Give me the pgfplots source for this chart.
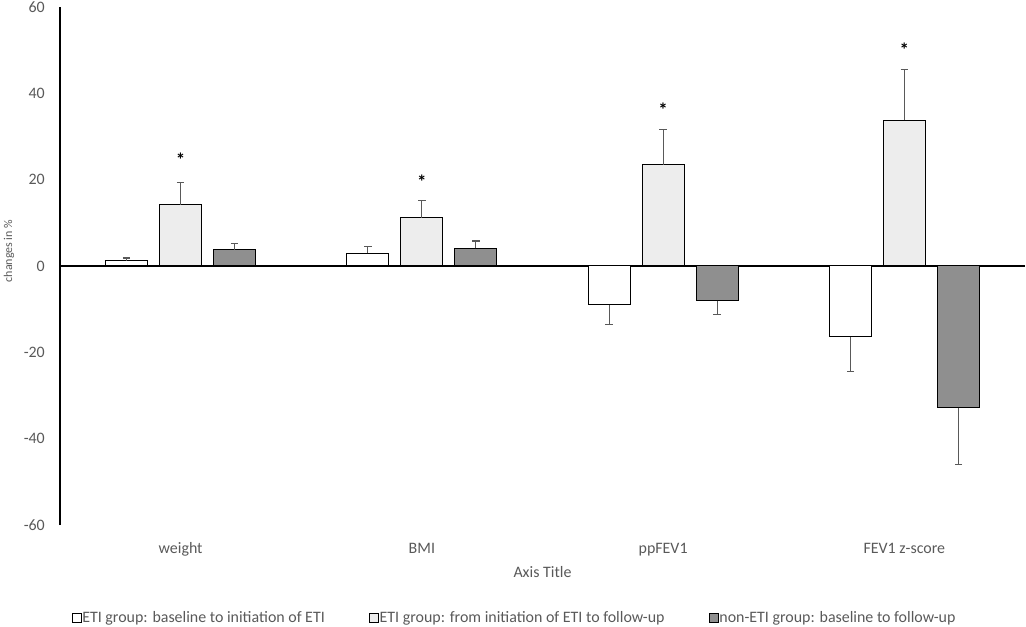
\documentclass[border=0pt]{standalone}
\usepackage{fontspec}
\setmainfont{Carlito}
\usepackage{pgfplots}
\pgfplotsset{compat=1.18}
\definecolor{lightbar}{HTML}{EDEDED}
\definecolor{darkbar}{HTML}{8F8F8F}
\definecolor{txt}{HTML}{595959}
\definecolor{errc}{HTML}{595959}
\newcommand{\lab}{\fontsize{16}{19}\selectfont}
\begin{document}
\begin{tikzpicture}
\begin{axis}[
  at={(60bp,102bp)}, anchor=south west,
  scale only axis, width=965bp, height=518bp,
  xmin=-0.5, xmax=3.5, ymin=-60, ymax=60,
  axis x line*=bottom, axis y line*=left,
  x axis line style={draw=none},
  y axis line style={black, line width=1.1bp},
  major tick length=0pt,
  xtick={0,1,2,3},
  xticklabels={weight,BMI,ppFEV1,FEV1 z-score},
  ytick={-60,-40,-20,0,20,40,60},
  yticklabels={-60,-40,-20,0,20,40,60},
  extra y ticks={0}, extra y tick labels={},
  extra y tick style={grid=major, major grid style={black, line width=1.1bp}},
  yticklabel style={font=\lab, text=txt, anchor=east, inner sep=0pt, xshift=-15bp},
  xticklabel style={font=\lab, text=txt, anchor=base, inner sep=0pt, yshift=-28bp},
  xlabel={Axis Title},
  xlabel style={at={(axis description cs:0.5,0)}, anchor=base, inner sep=0pt, yshift=-52.7bp, font=\lab, text=txt},
  ylabel={changes in \%},
  ylabel style={at={(axis description cs:-0.0528,0.529)}, anchor=center, inner sep=0pt, font=\fontsize{12}{14}\selectfont, text=txt},
  legend columns=3,
  legend style={at={(axis description cs:0.4705,-0.1795)}, anchor=center, draw=none, fill=none,
    font=\lab, text=txt, cells={anchor=west}, nodes={inner sep=0.5bp},
    /tikz/every even column/.append style={column sep=44bp}},
  error bars/error bar style={errc, line width=1.1bp},
  error bars/error mark options={errc, line width=1.1bp, mark size=3.8bp, rotate=90},
]
% white series
\addplot[ybar, bar width=42bp, bar shift=0bp, draw=black, line width=1bp, fill=white,
  error bars/.cd, y dir=plus, y explicit,
  /pgfplots/legend image code/.code={\draw[black, line width=0.8bp, fill=white] (0bp,-4.5bp) rectangle (9bp,4.5bp);}]
  coordinates {(-0.2238,1.2) +- (0,0.65) (0.7762,3.0) +- (0,1.5)};
\addlegendentry{ETI group: baseline to initiation of ETI}
\addplot[ybar, forget plot, bar width=42bp, bar shift=0bp, draw=black, line width=1bp, fill=white,
  error bars/.cd, y dir=minus, y explicit]
  coordinates {(1.7762,-9.0) +- (0,4.5) (2.7762,-16.4) +- (0,8.1)};
% light series
\addplot[ybar, bar width=42bp, bar shift=0bp, draw=black, line width=1bp, fill=lightbar,
  error bars/.cd, y dir=plus, y explicit,
  /pgfplots/legend image code/.code={\draw[black, line width=0.8bp, fill=lightbar] (0bp,-4.5bp) rectangle (9bp,4.5bp);}]
  coordinates {(0,14.2) +- (0,5.1) (1,11.2) +- (0,3.9) (2,23.4) +- (0,8.2) (3,33.8) +- (0,11.8)};
\addlegendentry{ETI group: from initiation of ETI to follow-up}
% dark series
\addplot[ybar, bar width=42bp, bar shift=0bp, draw=black, line width=1bp, fill=darkbar,
  error bars/.cd, y dir=plus, y explicit,
  /pgfplots/legend image code/.code={\draw[black, line width=0.8bp, fill=darkbar] (0bp,-4.5bp) rectangle (9bp,4.5bp);}]
  coordinates {(0.2238,3.8) +- (0,1.5) (1.2238,4.1) +- (0,1.7)};
\addlegendentry{non-ETI group: baseline to follow-up}
\addplot[ybar, forget plot, bar width=42bp, bar shift=0bp, draw=black, line width=1bp, fill=darkbar,
  error bars/.cd, y dir=minus, y explicit]
  coordinates {(2.2238,-8.0) +- (0,3.3) (3.2238,-32.8) +- (0,13.2)};
% significance stars
\addplot[forget plot, only marks, mark=none, nodes near coords={\bfseries *},
  every node near coord/.append style={anchor=center, font=\fontsize{19}{22}\selectfont, text=black, inner sep=0pt}]
  coordinates {(0,24.6) (1,19.6) (2,36.2) (3,50)};
\end{axis}
\pgfresetboundingbox
\path (0,0) rectangle (1026bp,627bp);
\end{tikzpicture}
\end{document}
